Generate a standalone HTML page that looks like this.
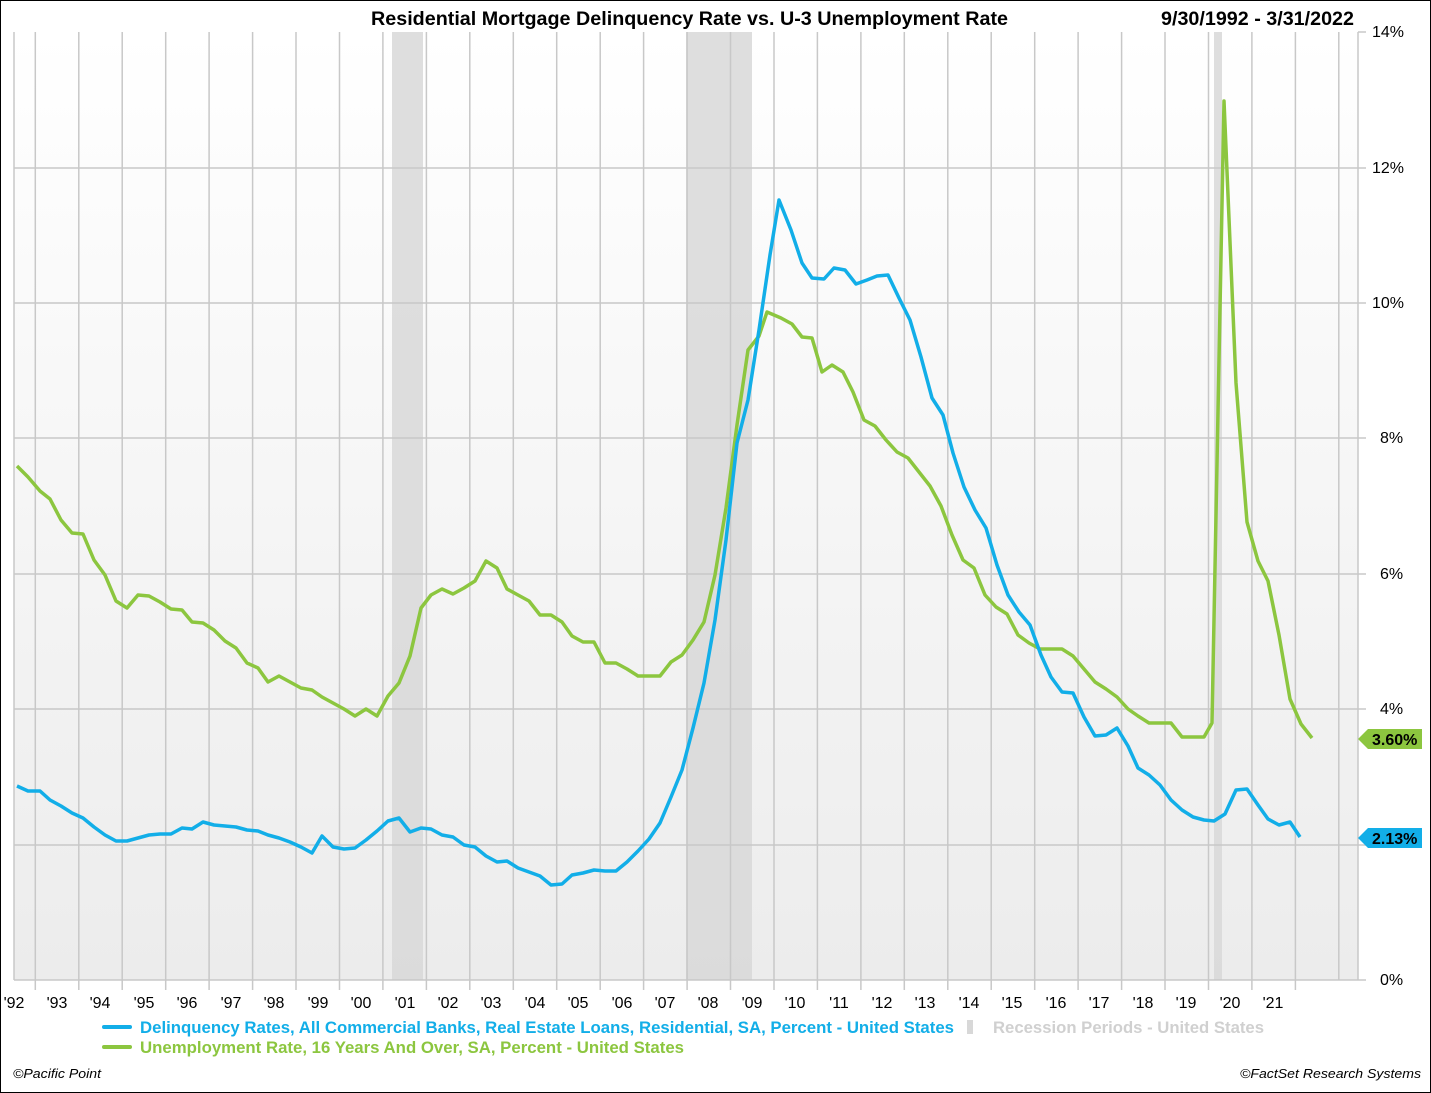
<!DOCTYPE html>
<html><head><meta charset="utf-8"><style>
body{margin:0;background:#fff;}
svg{display:block;font-family:"Liberation Sans",Arial,sans-serif;}
</style></head><body>
<svg width="1431" height="1093" viewBox="0 0 1431 1093" xmlns="http://www.w3.org/2000/svg">
<defs>
<linearGradient id="bg" x1="0" y1="0" x2="0" y2="1">
<stop offset="0" stop-color="#ffffff"/><stop offset="1" stop-color="#ececec"/>
</linearGradient>
</defs>
<rect x="0.5" y="0.5" width="1430" height="1092" fill="#fff" stroke="#000"/>
<rect x="14" y="32" width="1344" height="948" fill="url(#bg)"/>
<rect x="392" y="32" width="31" height="948" fill="#d8d8d8" opacity="0.85"/>
<rect x="686" y="32" width="66" height="948" fill="#d8d8d8" opacity="0.85"/>
<rect x="1214" y="32" width="8" height="948" fill="#d8d8d8" opacity="0.85"/>
<g stroke="#c8c8c8" stroke-width="1.5" fill="none">
<line x1="14" y1="168" x2="1366" y2="168"/>
<line x1="14" y1="303" x2="1366" y2="303"/>
<line x1="14" y1="438" x2="1366" y2="438"/>
<line x1="14" y1="574" x2="1366" y2="574"/>
<line x1="14" y1="709" x2="1366" y2="709"/>
<line x1="14" y1="845" x2="1366" y2="845"/>
<line x1="1358" y1="32" x2="1366" y2="32"/>
<line x1="14" y1="980" x2="1366" y2="980"/>
<line x1="14" y1="32" x2="14" y2="980"/>
<line x1="1358" y1="32" x2="1358" y2="980"/>
</g>
<g stroke="#c8c8c8" stroke-width="1.5">
<line x1="35.3" y1="32" x2="35.3" y2="990"/><line x1="78.8" y1="32" x2="78.8" y2="990"/><line x1="122.2" y1="32" x2="122.2" y2="990"/><line x1="165.7" y1="32" x2="165.7" y2="990"/><line x1="209.1" y1="32" x2="209.1" y2="990"/><line x1="252.6" y1="32" x2="252.6" y2="990"/><line x1="296" y1="32" x2="296" y2="990"/><line x1="339.5" y1="32" x2="339.5" y2="990"/><line x1="382.9" y1="32" x2="382.9" y2="990"/><line x1="426.4" y1="32" x2="426.4" y2="990"/><line x1="469.8" y1="32" x2="469.8" y2="990"/><line x1="513.3" y1="32" x2="513.3" y2="990"/><line x1="556.7" y1="32" x2="556.7" y2="990"/><line x1="600.2" y1="32" x2="600.2" y2="990"/><line x1="643.6" y1="32" x2="643.6" y2="990"/><line x1="687.1" y1="32" x2="687.1" y2="990"/><line x1="730.5" y1="32" x2="730.5" y2="990"/><line x1="774" y1="32" x2="774" y2="990"/><line x1="817.4" y1="32" x2="817.4" y2="990"/><line x1="860.9" y1="32" x2="860.9" y2="990"/><line x1="904.3" y1="32" x2="904.3" y2="990"/><line x1="947.8" y1="32" x2="947.8" y2="990"/><line x1="991.2" y1="32" x2="991.2" y2="990"/><line x1="1034.7" y1="32" x2="1034.7" y2="990"/><line x1="1078.1" y1="32" x2="1078.1" y2="990"/><line x1="1121.6" y1="32" x2="1121.6" y2="990"/><line x1="1165" y1="32" x2="1165" y2="990"/><line x1="1208.5" y1="32" x2="1208.5" y2="990"/><line x1="1251.9" y1="32" x2="1251.9" y2="990"/><line x1="1295.4" y1="32" x2="1295.4" y2="990"/><line x1="1338.8" y1="32" x2="1338.8" y2="980"/>
</g>
<g font-size="16" fill="#000">
<text x="1372" y="37">14%</text><text x="1372" y="173">12%</text><text x="1372" y="308">10%</text>
<text x="1380" y="443">8%</text><text x="1380" y="579">6%</text><text x="1380" y="714">4%</text>
<text x="1380" y="985">0%</text>
</g>
<g font-size="16" fill="#000" text-anchor="middle">
<text x="14" y="1008">'92</text><text x="57" y="1008">'93</text><text x="100" y="1008">'94</text><text x="144" y="1008">'95</text><text x="187" y="1008">'96</text><text x="231" y="1008">'97</text><text x="274" y="1008">'98</text><text x="318" y="1008">'99</text><text x="361" y="1008">'00</text><text x="405" y="1008">'01</text><text x="448" y="1008">'02</text><text x="491" y="1008">'03</text><text x="535" y="1008">'04</text><text x="578" y="1008">'05</text><text x="622" y="1008">'06</text><text x="665" y="1008">'07</text><text x="708" y="1008">'08</text><text x="752" y="1008">'09</text><text x="795" y="1008">'10</text><text x="839" y="1008">'11</text><text x="882" y="1008">'12</text><text x="925" y="1008">'13</text><text x="969" y="1008">'14</text><text x="1012" y="1008">'15</text><text x="1056" y="1008">'16</text><text x="1099" y="1008">'17</text><text x="1143" y="1008">'18</text><text x="1186" y="1008">'19</text><text x="1230" y="1008">'20</text><text x="1273" y="1008">'21</text>
</g>
<text x="371" y="25" font-size="19" font-weight="bold" textLength="637" lengthAdjust="spacingAndGlyphs">Residential Mortgage Delinquency Rate vs. U-3 Unemployment Rate</text>
<text x="1161" y="25" font-size="19" font-weight="bold" textLength="193" lengthAdjust="spacingAndGlyphs">9/30/1992 - 3/31/2022</text>
<polyline fill="none" stroke="#8cc63f" stroke-width="3.5" stroke-linejoin="round" points="17,466 28,477 40,491 50,499 61,520 72,533 83,534 94,560 105,575 116,601 127,608 138,595 149,596 160,602 171,609 182,610 192,622 203,623 214,630 225,641 236,648 247,663 258,668 268,682 279,676 290,682 301,688 312,690 322,697 333,703 344,709 355,716 366,709 377,716 388,696 399,683 410,656 421,608 431,595 442,589 453,594 464,588 475,581 486,561 497,568 507,589 518,595 529,601 540,615 551,615 562,622 572,636 583,642 594,642 605,663 616,663 627,669 638,676 649,676 660,676 671,662 682,655 693,640 704,622 715,575 726,508 737,425 748,350 759,336 767,312 781,318 792,324 802,337 812,338 822,372 832,365 843,372 853,392 864,420 875,426 886,440 897,452 908,458 919,472 930,486 941,506 952,535 963,560 974,568 985,595 996,607 1007,614 1018,635 1029,643 1040,649 1051,649 1062,649 1073,656 1084,669 1095,682 1106,689 1117,697 1128,709 1138,716 1149,723 1160,723 1171,723 1182,737 1193,737 1204,737 1212,723 1224,101 1236,383 1247,522 1258,561 1268,581 1279,635 1290,699 1301,724 1312,738"/>
<polyline fill="none" stroke="#12aee8" stroke-width="3.5" stroke-linejoin="round" points="17,786 28,791 40,791 50,800 61,806 72,813 83,818 94,827 105,835 116,841 127,841 138,838 149,835 160,834 171,834 182,828 192,829 203,822 214,825 225,826 236,827 247,830 258,831 268,835 279,838 290,842 301,847 312,853 322,836 333,847 344,849 355,848 366,840 377,831 388,821 399,818 410,832 421,828 431,829 442,835 453,837 464,845 475,847 486,856 497,862 507,861 518,868 529,872 540,876 551,885 562,884 572,875 583,873 594,870 605,871 616,871 627,862 638,851 649,839 660,823 671,797 682,770 693,728 704,683 715,620 726,540 737,443 748,400 759,330 770,255 779,200 791,230 802,263 812,278 824,279 834,268 845,270 856,284 867,280 877,276 888,275 899,298 910,320 921,357 932,398 943,415 953,453 964,487 975,510 986,528 997,565 1008,595 1019,612 1030,625 1041,655 1051,677 1062,692 1073,693 1084,717 1095,736 1106,735 1117,728 1128,746 1138,768 1149,775 1160,785 1171,800 1182,810 1193,817 1204,820 1214,821 1225,814 1236,790 1247,789 1258,805 1268,819 1279,825 1290,822 1300,837"/>
<polygon points="1358,739 1368,729 1422,729 1422,749 1368,749" fill="#8cc63f"/>
<text x="1372" y="745" font-size="16" font-weight="bold">3.60%</text>
<polygon points="1358,838 1368,828 1422,828 1422,848 1368,848" fill="#12aee8"/>
<text x="1372" y="844" font-size="16" font-weight="bold">2.13%</text>
<line x1="104" y1="1027" x2="130" y2="1027" stroke="#12aee8" stroke-width="4" stroke-linecap="round"/>
<text x="140" y="1033" font-size="16.5" font-weight="bold" fill="#12aee8" textLength="814" lengthAdjust="spacingAndGlyphs">Delinquency Rates, All Commercial Banks, Real Estate Loans, Residential, SA, Percent - United States</text>
<rect x="967" y="1020" width="6" height="14" fill="#d8d8d8"/>
<text x="993" y="1033" font-size="16.5" font-weight="bold" fill="#d0d0d0" textLength="271" lengthAdjust="spacingAndGlyphs">Recession Periods - United States</text>
<line x1="104" y1="1047" x2="130" y2="1047" stroke="#8cc63f" stroke-width="4" stroke-linecap="round"/>
<text x="140" y="1053" font-size="16.5" font-weight="bold" fill="#8cc63f" textLength="544" lengthAdjust="spacingAndGlyphs">Unemployment Rate, 16 Years And Over, SA, Percent - United States</text>
<text x="13" y="1078" font-size="13" font-style="italic" textLength="88" lengthAdjust="spacingAndGlyphs">©Pacific Point</text>
<text x="1240" y="1078" font-size="13" font-style="italic" textLength="181" lengthAdjust="spacingAndGlyphs">©FactSet Research Systems</text>
</svg>
</body></html>
